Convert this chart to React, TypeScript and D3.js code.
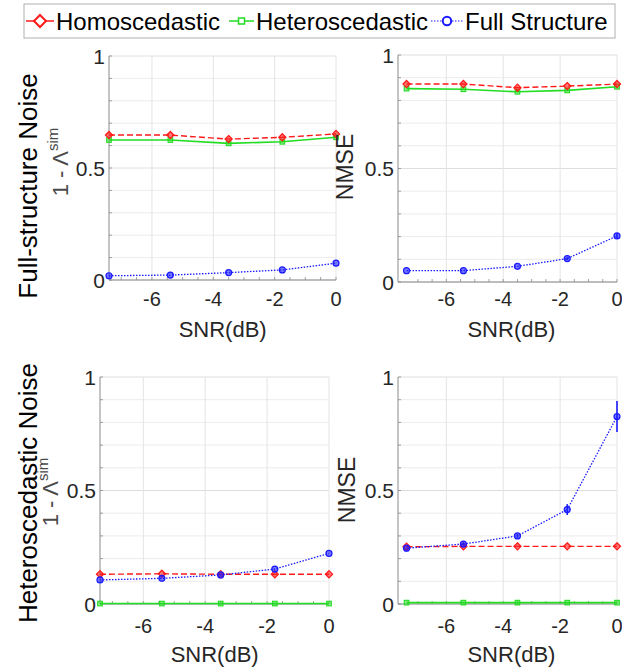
import React from 'react';
import * as d3 from 'd3';

// SNR values (dB) shared by every panel
const snr = [-7.4, -5.4, -3.5, -1.75, 0];

// Full-structure noise, 1 - Lambda^sim
const fsHomoSim = [0.647, 0.647, 0.629, 0.637, 0.652];
const fsHeteroSim = [0.625, 0.625, 0.61, 0.617, 0.637];
const fsFullSim = [0.019, 0.022, 0.033, 0.045, 0.075];

// Full-structure noise, NMSE
const fsHomoNmse = [0.872, 0.872, 0.856, 0.863, 0.872];
const fsHeteroNmse = [0.852, 0.849, 0.838, 0.844, 0.86];
const fsFullNmse = [0.05, 0.05, 0.069, 0.103, 0.203];
const fsFullNmseErr = [0.003, 0.003, 0.004, 0.006, 0.012];

// Heteroscedastic noise, 1 - Lambda^sim
const hnHomoSim = [0.131, 0.133, 0.131, 0.131, 0.131];
const hnHeteroSim = [0.002, 0.002, 0.002, 0.002, 0.002];
const hnFullSim = [0.106, 0.113, 0.128, 0.154, 0.223];

// Heteroscedastic noise, NMSE
const hnHomoNmse = [0.252, 0.254, 0.254, 0.254, 0.254];
const hnHeteroNmse = [0.006, 0.006, 0.006, 0.006, 0.006];
const hnFullNmse = [0.246, 0.264, 0.3, 0.416, 0.826];
const hnFullNmseErr = [0.004, 0.006, 0.008, 0.024, 0.068];

const xTicks = [-6, -4, -2, 0];
const yTicks = [0, 0.5, 1];

const legendNames = ['Homoscedastic', 'Heteroscedastic', 'Full Structure'];
const RED = '#ff1a1a';
const GREEN = '#22dd22';
const BLUE = '#1a1aff';
const FONT = '"Liberation Sans", Arial, sans-serif';

type Series = { values: number[]; err?: number[]; color: string; dash: string; marker: string; width: number };

const mk = (h: number[], g: number[], b: number[], bErr?: number[]): Series[] => [
  { values: g, color: GREEN, dash: '', marker: 'square', width: 1.6 },
  { values: h, color: RED, dash: '6,3', marker: 'diamond', width: 1.4 },
  { values: b, err: bErr, color: BLUE, dash: '1.5,1.5', marker: 'circle', width: 1.3 },
];

const panels = [
  { left: 109, right: 336, top: 56, bottom: 280, xMin: -7.4, label: 'sim', labX: 68, labY: 162, series: mk(fsHomoSim, fsHeteroSim, fsFullSim), tickY: 306, xlabY: 337 },
  { left: 398, right: 617, top: 55, bottom: 282, xMin: -7.7, label: 'NMSE', labX: 353, labY: 167, series: mk(fsHomoNmse, fsHeteroNmse, fsFullNmse, fsFullNmseErr), tickY: 306, xlabY: 337 },
  { left: 100, right: 329, top: 377, bottom: 604, xMin: -7.4, label: 'sim', labX: 58, labY: 492, series: mk(hnHomoSim, hnHeteroSim, hnFullSim), tickY: 633, xlabY: 662 },
  { left: 398, right: 617, top: 377, bottom: 604, xMin: -7.7, label: 'NMSE', labX: 355, labY: 490, series: mk(hnHomoNmse, hnHeteroNmse, hnFullNmse, hnFullNmseErr), tickY: 633, xlabY: 662 },
];

function Marker({ type, x, y, color }: { type: string; x: number; y: number; color: string }) {
  if (type === 'diamond') {
    const s = 3.6;
    return <path d={`M${x},${y - s}L${x + s},${y}L${x},${y + s}L${x - s},${y}Z`} fill={color} fillOpacity={0.6} stroke={color} strokeWidth={1.2} />;
  }
  if (type === 'square') {
    return <rect x={x - 2.3} y={y - 2.3} width={4.6} height={4.6} fill={color} fillOpacity={0.5} stroke={color} strokeWidth={1.1} />;
  }
  return <circle cx={x} cy={y} r={3} fill={color} fillOpacity={0.6} stroke={color} strokeWidth={1.2} />;
}

function Panel({ p }: { p: typeof panels[number] }) {
  const x = d3.scaleLinear().domain([p.xMin, 0]).range([p.left, p.right]);
  const y = d3.scaleLinear().domain([0, 1]).range([p.bottom, p.top]);
  const minorY = d3.range(1, 10).map(v => v / 10).filter(v => Math.abs(v - 0.5) > 1e-6);
  const minorX = d3.range(-7, 0.01, 0.5);
  return (
    <g>
      {minorY.map(v => (
        <line key={'my' + v} x1={p.left} x2={p.right} y1={y(v)} y2={y(v)} stroke="#ececec" strokeWidth={1} />
      ))}
      {yTicks.map(v => (
        <line key={'gy' + v} x1={p.left} x2={p.right} y1={y(v)} y2={y(v)} stroke="#dedede" strokeWidth={1} />
      ))}
      {xTicks.map(v => (
        <line key={'gx' + v} x1={x(v)} x2={x(v)} y1={p.top} y2={p.bottom} stroke="#e4e4e4" strokeWidth={1} />
      ))}
      <line x1={p.left} x2={p.left} y1={p.top} y2={p.bottom} stroke="#8a8a8a" strokeWidth={1} />
      <line x1={p.left} x2={p.right} y1={p.bottom} y2={p.bottom} stroke="#8a8a8a" strokeWidth={1} />
      {minorX.map(v => (
        <line key={'mx' + v} x1={x(v)} x2={x(v)} y1={p.bottom} y2={p.bottom - 3} stroke="#8a8a8a" strokeWidth={0.8} />
      ))}
      {d3.range(0, 1.01, 0.1).map(v => (
        <line key={'ty' + v} x1={p.left} x2={p.left + 3} y1={y(v)} y2={y(v)} stroke="#8a8a8a" strokeWidth={0.8} />
      ))}
      {yTicks.map(v => (
        <text key={'ly' + v} x={p.left - 4} y={y(v)} dy="0.36em" textAnchor="end" fontSize={21} fill="#262626">
          {String(v)}
        </text>
      ))}
      {xTicks.map(v => (
        <text key={'lx' + v} x={x(v)} y={p.tickY} textAnchor="middle" fontSize={20} fill="#262626">
          {String(v)}
        </text>
      ))}
      <text x={(x(-7) + p.right) / 2 - 6} y={p.xlabY} textAnchor="middle" fontSize={22} fill="#262626">
        SNR(dB)
      </text>
      {p.label === 'NMSE' ? (
        <text transform={`translate(${p.labX},${p.labY}) rotate(-90)`} textAnchor="middle" fontSize={23} fill="#262626">
          NMSE
        </text>
      ) : (
        <text transform={`translate(${p.labX},${p.labY}) rotate(-90)`} textAnchor="middle" fontSize={22} fill="#4a4a4a">
          1 - Λ<tspan dy={-10} fontSize={15}>sim</tspan>
        </text>
      )}
      {p.series.map((s, si) => {
        const line = d3.line<number>().x((_, i) => x(snr[i])).y(v => y(v));
        return (
          <g key={si}>
            <path d={line(s.values) || ''} fill="none" stroke={s.color} strokeWidth={s.width} strokeDasharray={s.dash} />
            {s.err &&
              s.values.map((v, i) =>
                s.err![i] > 0.005 ? (
                  <line key={'e' + i} x1={x(snr[i])} x2={x(snr[i])} y1={y(v - s.err![i])} y2={y(v + s.err![i])} stroke={s.color} strokeWidth={1.6} />
                ) : null
              )}
            {s.values.map((v, i) => (
              <Marker key={i} type={s.marker} x={x(snr[i])} y={y(v)} color={s.color} />
            ))}
          </g>
        );
      })}
    </g>
  );
}

export default function App() {
  const legendItems = [
    { name: legendNames[0], color: RED, dash: '', marker: 'diamond', x1: 26, x2: 54, tx: 56 },
    { name: legendNames[1], color: GREEN, dash: '', marker: 'square', x1: 229, x2: 254, tx: 256 },
    { name: legendNames[2], color: BLUE, dash: '1.5,1.5', marker: 'circle', x1: 431, x2: 463, tx: 465 },
  ];
  return (
    <div style={{ position: 'absolute', left: 0, top: 0 }}>
      <svg width={622} height={669} style={{ display: 'block', fontFamily: FONT, background: '#fff' }}>
        {panels.map((p, i) => (
          <Panel key={i} p={p} />
        ))}
        <text transform="translate(37,186) rotate(-90)" textAnchor="middle" fontSize={26} fill="#000">
          Full-structure Noise
        </text>
        <text transform="translate(37,493) rotate(-90)" textAnchor="middle" fontSize={26} fill="#000">
          Heteroscedastic Noise
        </text>
        <rect x={24} y={4} width={591} height={34} fill="#fff" stroke="#b0b0b0" strokeWidth={1} />
        {legendItems.map(l => {
          const lineCol = l.marker === 'circle' ? '#6a6aff' : l.color;
          return (
            <g key={l.name}>
              <line x1={l.x1} x2={l.x2} y1={21} y2={21} stroke={lineCol} strokeWidth={1.5} strokeDasharray={l.dash} />
              {l.marker === 'diamond' && (
                <path d={`M${(l.x1 + l.x2) / 2},${15}L${(l.x1 + l.x2) / 2 + 6},21L${(l.x1 + l.x2) / 2},27L${(l.x1 + l.x2) / 2 - 6},21Z`} fill="#fff" stroke={l.color} strokeWidth={2} />
              )}
              {l.marker === 'square' && (
                <rect x={(l.x1 + l.x2) / 2 - 3} y={18} width={6} height={6} fill="#fff" stroke={l.color} strokeWidth={1.5} />
              )}
              {l.marker === 'circle' && <circle cx={(l.x1 + l.x2) / 2} cy={21} r={4.2} fill="#fff" stroke={l.color} strokeWidth={2} />}
              <text x={l.tx} y={29.5} fontSize={24} fill="#000">
                {l.name}
              </text>
            </g>
          );
        })}
      </svg>
    </div>
  );
}
